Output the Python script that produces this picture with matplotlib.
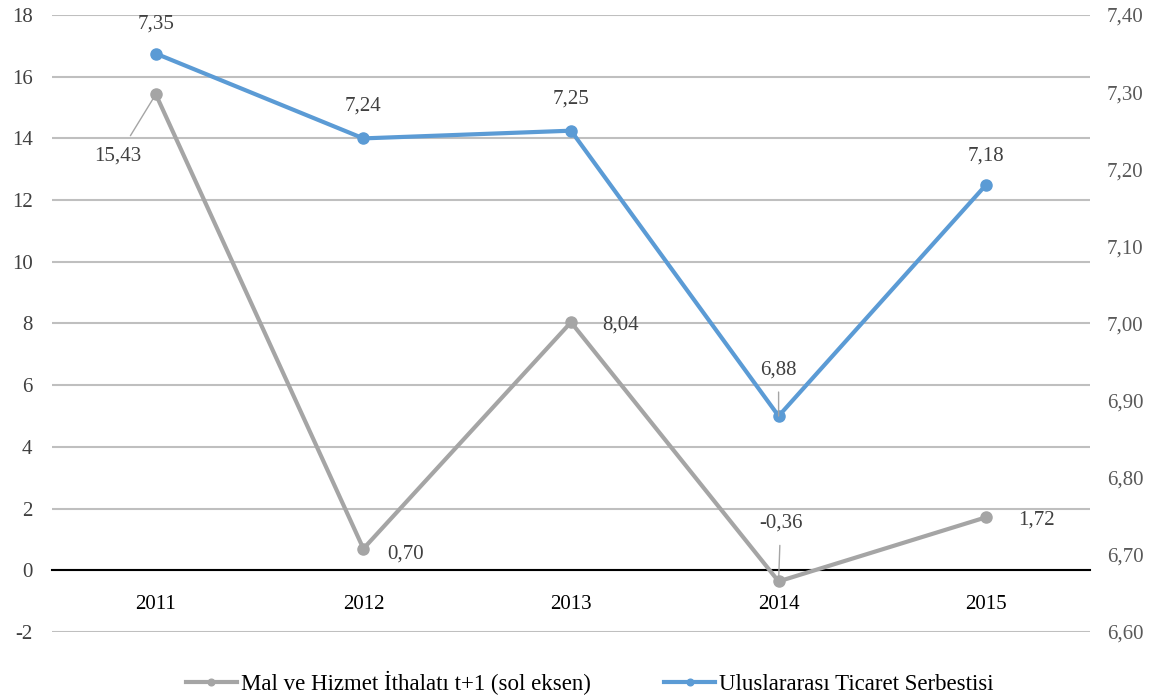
import matplotlib
matplotlib.use("Agg")
import matplotlib.pyplot as plt
import numpy as np

years = ["2011", "2012", "2013", "2014", "2015"]
imports = [15.43, 0.70, 8.04, -0.36, 1.72]
freedom = [7.35, 7.24, 7.25, 6.88, 7.18]
left_ticks = list(range(-2, 19, 2))
right_ticks = [6.60, 6.70, 6.80, 6.90, 7.00, 7.10, 7.20, 7.30, 7.40]

GRAY = "#A5A5A5"
BLUE = "#5B9BD5"
TXT = "#404040"

plt.rcParams['font.family'] = ['Liberation Serif', 'DejaVu Serif']

fig = plt.figure(figsize=(11.66, 7), dpi=100)
ax = fig.add_axes([52/1166, 1-632/700, (1090-52)/1166, (632-15)/700])
ax2 = ax.twinx()

x = np.arange(len(years))
ax.set_xlim(-0.5, len(years)-0.5)
ax.set_ylim(-2, 18)
ax2.set_ylim(6.60, 7.40)

ax.set_yticks(left_ticks)
ax.set_yticklabels([str(t) for t in left_ticks], fontsize=15, color=TXT)
ax2.set_yticks(right_ticks)
ax2.set_yticklabels([f"{t:.2f}".replace('.', ',') for t in right_ticks], fontsize=15, color="#595959")

ax.grid(axis='y', color="#BFBFBF", linewidth=1.5)
ax.set_axisbelow(True)
for s in ['top', 'right', 'left']:
    ax.spines[s].set_visible(False)
for s in ['top', 'right', 'left', 'bottom']:
    ax2.spines[s].set_visible(False)
ax.spines['bottom'].set_position(('data', 0))
ax.spines['bottom'].set_color('black')
ax.spines['bottom'].set_linewidth(1.5)
ax.spines['bottom'].set_zorder(3)
ax.set_xticks(x)
ax.set_xticklabels(years, fontsize=15, color="#000000")
ax.tick_params(axis='x', length=0, pad=18)
ax.tick_params(axis='y', length=0, pad=14)
ax2.tick_params(axis='y', length=0, pad=12)

l1, = ax.plot(x, imports, color=GRAY, lw=3, marker='o', ms=8, zorder=4,
              label="Mal ve Hizmet İthalatı t+1 (sol eksen)")
l2, = ax2.plot(x, freedom, color=BLUE, lw=3, marker='o', ms=8, zorder=5,
               label="Uluslararası Ticaret Serbestisi")

def fmt(v):
    return f"{v:.2f}".replace('.', ',')

# gray labels (offsets in pixels)
g_off = [(-38, -62), (42, -5), (50, -3), (2, 58), (50, -3)]
g_lead = [True, False, False, True, False]
for i, v in enumerate(imports):
    if g_lead[i]:
        ax.annotate(fmt(v), (x[i], v), xytext=g_off[i], textcoords='offset pixels',
                    ha='center', va='center', fontsize=15, color=TXT,
                    arrowprops=dict(arrowstyle='-', color="#A5A5A5", lw=1,
                                    shrinkA=7, shrinkB=2), zorder=6)
    else:
        ax.annotate(fmt(v), (x[i], v), xytext=g_off[i], textcoords='offset pixels',
                    ha='center', va='center', fontsize=15, color=TXT, zorder=6)

b_off = [(0, 30), (0, 32), (0, 32), (0, 46), (0, 29)]
b_lead = [False, False, False, True, False]
for i, v in enumerate(freedom):
    if b_lead[i]:
        ax2.annotate(fmt(v), (x[i], v), xytext=b_off[i], textcoords='offset pixels',
                     ha='center', va='center', fontsize=15, color=TXT,
                     arrowprops=dict(arrowstyle='-', color="#A5A5A5", lw=1,
                                     shrinkA=7, shrinkB=0), zorder=6)
    else:
        ax2.annotate(fmt(v), (x[i], v), xytext=b_off[i], textcoords='offset pixels',
                     ha='center', va='center', fontsize=15, color=TXT, zorder=6)

leg = fig.legend(handles=[l1, l2], loc='center', bbox_to_anchor=(0.506, 1-683/700),
                 ncol=2, frameon=False, fontsize=16.5, columnspacing=3.2,
                 handlelength=2.2, handletextpad=0.2, markerscale=0.6)
for t in leg.get_texts():
    t.set_color("#000000")

fig.savefig("out.png", dpi=100)
